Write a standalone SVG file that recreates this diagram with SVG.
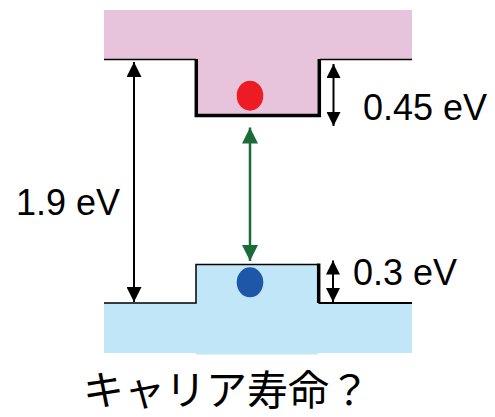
<svg xmlns="http://www.w3.org/2000/svg" width="495" height="417" viewBox="0 0 495 417">
<style>
.lbl{font-family:"Liberation Sans",Arial,sans-serif;font-size:36px;fill:#000}
.jp{font-family:"Noto Sans CJK JP","Noto Sans",sans-serif;font-size:41px;fill:#000}
.thin{stroke:#000;stroke-width:1.5;fill:none}
.thick{stroke:#000;stroke-width:3.5;fill:none}
.conn{stroke:#000;stroke-width:2;fill:none}
</style>
<defs>
<marker id="ahL" viewBox="0 0 10 10" refX="10" refY="5" markerUnits="userSpaceOnUse" markerWidth="17" markerHeight="15" orient="auto-start-reverse"><path d="M0,0 L10,5 L0,10 z" fill="#000"/></marker>
<marker id="ahS" viewBox="0 0 10 10" refX="10" refY="5" markerUnits="userSpaceOnUse" markerWidth="14" markerHeight="14" orient="auto-start-reverse"><path d="M0,0 L10,5 L0,10 z" fill="#000"/></marker>
<marker id="ahG" viewBox="0 0 10 10" refX="10" refY="5" markerUnits="userSpaceOnUse" markerWidth="16" markerHeight="16" orient="auto-start-reverse"><path d="M0,0 L10,5 L0,10 z" fill="#1b6b38"/></marker>
</defs>
<g id="conduction-band">
<rect x="104" y="10" width="308" height="49" fill="#e8c4dc"/>
<rect x="196" y="58" width="122" height="56" fill="#e8c4dc"/>
<path class="thin" d="M104,59.5 H196 M320,59.5 H412"/>
<path class="thick" d="M196.3,59 V115.5 H319.3 V59"/>
<ellipse cx="250" cy="95.7" rx="13.3" ry="15" fill="#ed1c24"/>
</g>
<g id="valence-band">
<rect x="104" y="303" width="308" height="50" fill="#c0e6f8"/>
<rect x="196" y="264.5" width="122" height="90" fill="#c0e6f8"/>
<path class="thin" d="M104,303 H196 V264.5 H318.5"/>
<path class="thick" d="M318.7,263.5 V303"/>
<path class="thin" d="M318.5,303 H412" style="stroke-width:2"/>
<ellipse cx="250" cy="282.3" rx="13.3" ry="15" fill="#1e56a8"/>
</g>
<g id="connectors">
<line class="conn" x1="134" y1="62" x2="134" y2="302" marker-start="url(#ahL)" marker-end="url(#ahL)"/>
<line class="conn" x1="333.5" y1="64" x2="333.5" y2="126" marker-start="url(#ahS)" marker-end="url(#ahS)"/>
<line class="conn" x1="333" y1="260.5" x2="333" y2="302" marker-start="url(#ahS)" marker-end="url(#ahS)"/>
<line x1="250" y1="127.5" x2="250" y2="261" stroke="#1b6b38" stroke-width="2.5" marker-start="url(#ahG)" marker-end="url(#ahG)"/>
</g>
<g id="labels">
<text class="lbl" x="16" y="215">1.9 eV</text>
<text class="lbl" x="363" y="120">0.45 eV</text>
<text class="lbl" x="353" y="285">0.3 eV</text>
<text class="jp" x="83" y="405">キャリア寿命？</text>
</g>
</svg>
